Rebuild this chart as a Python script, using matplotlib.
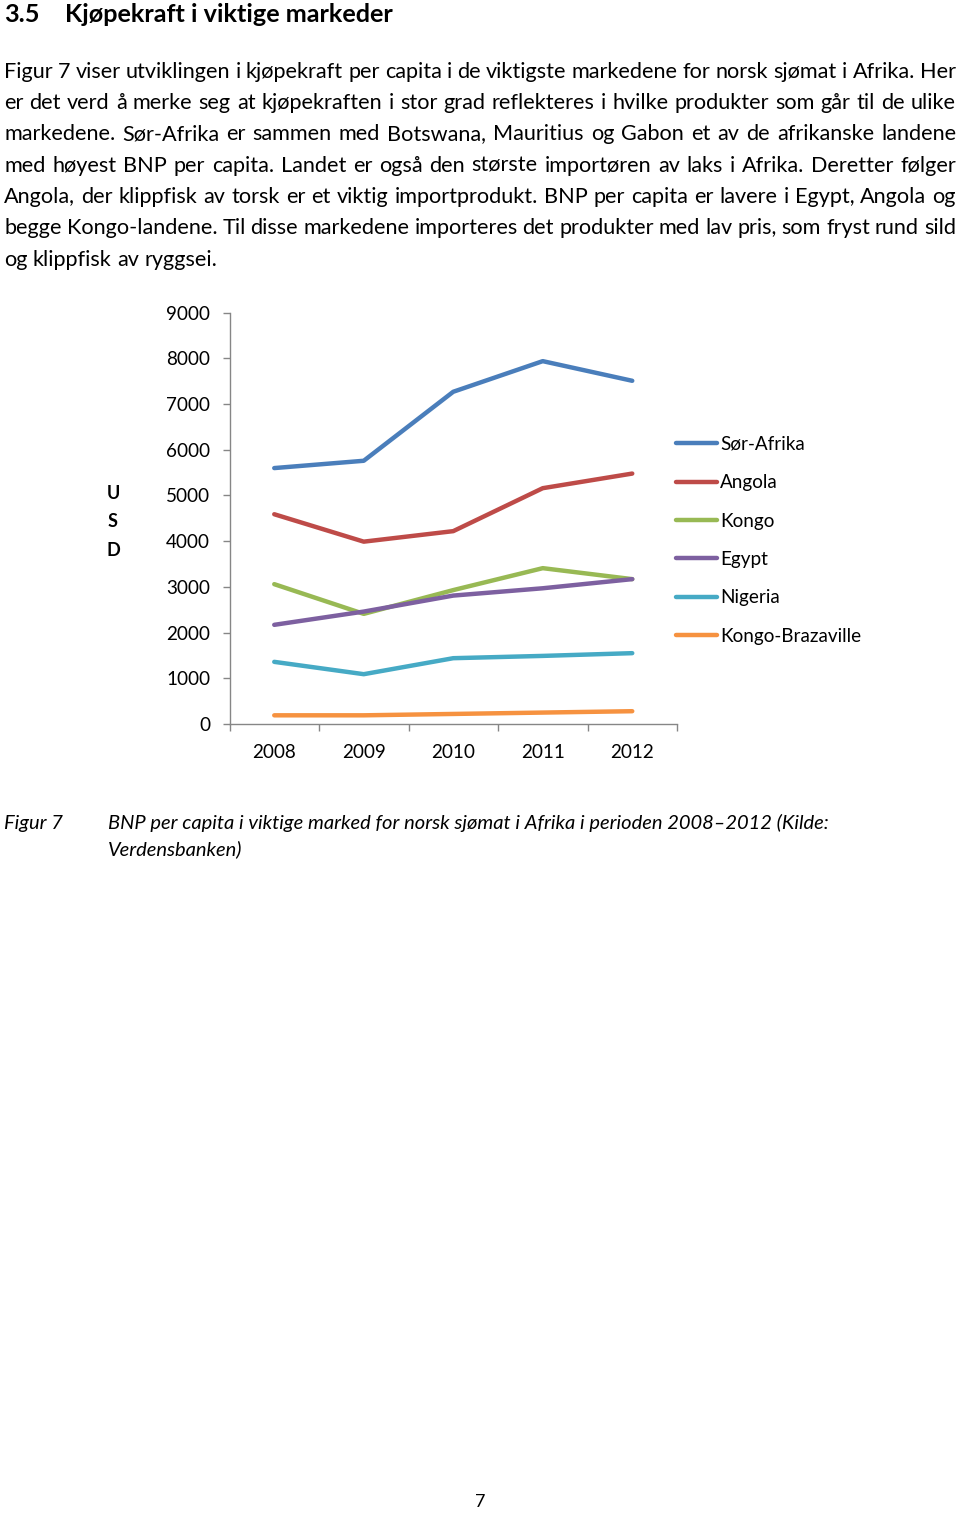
import matplotlib
matplotlib.use('Agg')
import matplotlib.pyplot as plt

# ---------------- data ----------------
years = ['2008', '2009', '2010', '2011', '2012']
sor_afrika = [5600, 5760, 7270, 7940, 7510]
angola = [4590, 3990, 4220, 5160, 5480]
kongo = [3060, 2410, 2930, 3410, 3170]
egypt = [2170, 2460, 2810, 2970, 3170]
nigeria = [1360, 1090, 1440, 1490, 1550]
kongo_brazaville = [190, 190, 220, 250, 280]
series_names = ['Sør-Afrika', 'Angola', 'Kongo', 'Egypt', 'Nigeria', 'Kongo-Brazaville']
yticks = [0, 1000, 2000, 3000, 4000, 5000, 6000, 7000, 8000, 9000]

heading_num = '3.5'
heading_text = 'Kjøpekraft i viktige markeder'
body_lines = [
    'Figur 7 viser utviklingen i kjøpekraft per capita i de viktigste markedene for norsk sjømat i Afrika. Her',
    'er det verd å merke seg at kjøpekraften i stor grad reflekteres i hvilke produkter som går til de ulike',
    'markedene. Sør-Afrika er sammen med Botswana, Mauritius og Gabon et av de afrikanske landene',
    'med høyest BNP per capita. Landet er også den største importøren av laks i Afrika. Deretter følger',
    'Angola, der klippfisk av torsk er et viktig importprodukt. BNP per capita er lavere i Egypt, Angola og',
    'begge Kongo-landene. Til disse markedene importeres det produkter med lav pris, som fryst rund sild',
    'og klippfisk av ryggsei.',
]
caption_label = 'Figur 7'
caption_lines = ['BNP per capita i viktige marked for norsk sjømat i Afrika i perioden 2008–2012 (Kilde:',
                 'Verdensbanken)']
page_number = '7'

# ---------------- style ----------------
colors = ['#4A7EBB', '#BE4B48', '#98B954', '#7D60A0', '#46AAC5', '#F69240']
FONT = 'Lato'
plt.rcParams['font.family'] = [FONT, 'DejaVu Sans']

W, H = 960, 1513
fig = plt.figure(figsize=(W / 100, H / 100), dpi=100)
fig.patch.set_facecolor('white')


def fx(x):
    return x / W


def fy(y):
    return 1 - y / H


# heading
fig.text(fx(4), fy(22.5), heading_num, fontsize=18.2, fontweight='bold', ha='left', va='baseline')
fig.text(fx(65), fy(22.5), heading_text, fontsize=18.2, fontweight='bold', ha='left', va='baseline')

# justified body text
renderer = fig.canvas.get_renderer()
BODY_FS = 15.6
left, right = 4, 956
base0, lstep = 77.5, 31.4
for i, line in enumerate(body_lines):
    yb = base0 + i * lstep
    words = line.split(' ')
    texts = [fig.text(0, fy(yb), w, fontsize=BODY_FS, ha='left', va='baseline') for w in words]
    widths = [t.get_window_extent(renderer).width for t in texts]
    if i < len(body_lines) - 1 and len(words) > 1:
        gap = (right - left - sum(widths)) / (len(words) - 1)
    else:
        sp = fig.text(0, 0, 'a a', fontsize=BODY_FS)
        sp2 = fig.text(0, 0, 'aa', fontsize=BODY_FS)
        gap = sp.get_window_extent(renderer).width - sp2.get_window_extent(renderer).width
        sp.remove()
        sp2.remove()
    x = left
    for t, w in zip(texts, widths):
        t.set_x(fx(x))
        x += w + gap

# ---------------- chart ----------------
TICK_FS = 13.6
ax_l, ax_r, ax_b, ax_t = 229.5, 677, 724, 312.7
ax = fig.add_axes([fx(ax_l), fy(ax_b), fx(ax_r - ax_l), (ax_b - ax_t) / H])
xs = list(range(len(years)))
for vals, name, c in zip([sor_afrika, angola, kongo, egypt, nigeria, kongo_brazaville], series_names, colors):
    ax.plot(xs, vals, color=c, lw=3.2, solid_capstyle='round', solid_joinstyle='round', label=name)

ax.set_xlim(-0.5, len(years) - 0.5)
ax.set_ylim(0, 9000)
ax.set_yticks(yticks)
ax.set_yticklabels([str(v) for v in yticks], fontsize=TICK_FS)
ax.set_xticks([i - 0.5 for i in range(len(years) + 1)])
ax.set_xticklabels([''] * (len(years) + 1))
ax.set_xticks(xs, minor=True)
ax.set_xticklabels(years, minor=True, fontsize=TICK_FS)
ax.tick_params(axis='x', which='minor', length=0, pad=14.5)
ax.tick_params(axis='x', which='major', length=5, width=1, color='#868686', direction='out')
ax.tick_params(axis='y', length=5, width=1, color='#868686', direction='out', pad=9)
for s in ['top', 'right']:
    ax.spines[s].set_visible(False)
for s in ['left', 'bottom']:
    ax.spines[s].set_color('#868686')
    ax.spines[s].set_linewidth(1)
ax.set_facecolor('none')

leg = ax.legend(loc='upper left', bbox_to_anchor=(fx(676), fy(436)), bbox_transform=fig.transFigure,
                frameon=False, fontsize=TICK_FS, handlelength=2.15, handletextpad=0.2,
                labelspacing=1.13, borderaxespad=0, borderpad=0)

# USD label
for ch, yy in zip('USD', [493.5, 521.5, 551]):
    fig.text(fx(113), fy(yy), ch, fontsize=13, fontweight='bold', ha='center', va='center')

# caption
CAP_FS = 14.5
fig.text(fx(4), fy(829.5), caption_label, fontsize=CAP_FS, style='italic', ha='left', va='baseline')
fig.text(fx(108), fy(829.5), caption_lines[0], fontsize=CAP_FS, style='italic', ha='left', va='baseline')
fig.text(fx(108), fy(855.5), caption_lines[1], fontsize=CAP_FS, style='italic', ha='left', va='baseline')

# page number
fig.text(fx(480), fy(1507), page_number, fontsize=13, ha='center', va='baseline')

fig.savefig('out.png', dpi=100, facecolor='white')
